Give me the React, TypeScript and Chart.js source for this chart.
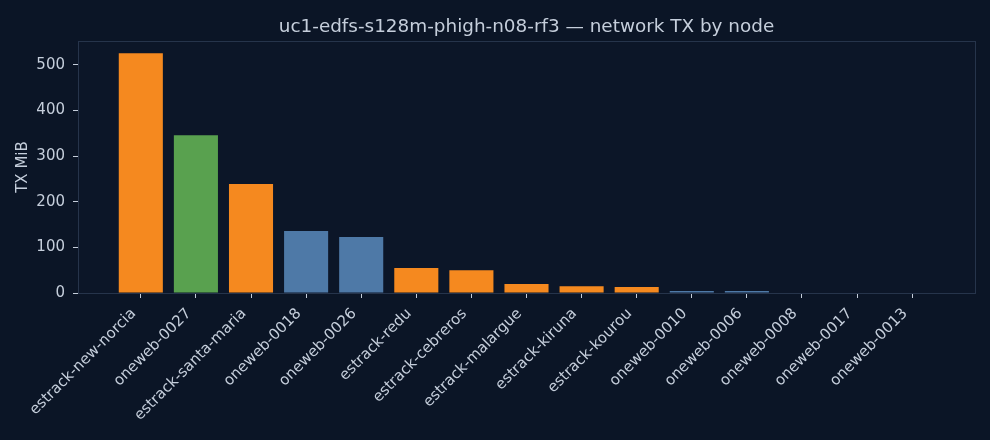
import { Chart, registerables } from "chart.js";
import { useEffect, useRef } from "react";

Chart.register(...registerables);

const nodes = [
  "estrack-new-norcia",
  "oneweb-0027",
  "estrack-santa-maria",
  "oneweb-0018",
  "oneweb-0026",
  "estrack-redu",
  "estrack-cebreros",
  "estrack-malargue",
  "estrack-kiruna",
  "estrack-kourou",
  "oneweb-0010",
  "oneweb-0006",
  "oneweb-0008",
  "oneweb-0017",
  "oneweb-0013",
];
const txMiB = [526, 346, 239, 136, 123, 55, 50, 19.5, 15, 13, 4.3, 4.3, 0, 0, 0];
const nodeKind = [
  "ground", "sat-hot", "ground", "sat", "sat", "ground", "ground", "ground",
  "ground", "ground", "sat", "sat", "sat", "sat", "sat",
];
const yTicks = [0, 100, 200, 300, 400, 500];

const kindColor: Record<string, string> = {
  ground: "#f5891f",
  "sat-hot": "#59a14f",
  sat: "#4e79a7",
};

const BG = "#0b1526";
const PLOT_BG = "#0c1628";
const TEXT = "#c5cedb";
const SPINE = "#26344b";
const FONT = "'DejaVu Sans', sans-serif";

const App = () => {
  const canvasRef = useRef<HTMLCanvasElement | null>(null);
  const chartRef = useRef<Chart | null>(null);

  useEffect(() => {
    if (!canvasRef.current) return;
    if (chartRef.current) chartRef.current.destroy();

    // background, axes box and title drawn by hand, matplotlib style
    const frame = {
      id: "frame",
      beforeDraw(chart: Chart) {
        const { ctx, chartArea: a } = chart;
        ctx.save();
        ctx.fillStyle = BG;
        ctx.fillRect(0, 0, chart.width, chart.height);
        ctx.fillStyle = PLOT_BG;
        ctx.fillRect(a.left, a.top, a.right - a.left, a.bottom - a.top);
        ctx.restore();
      },
      afterDraw(chart: Chart) {
        const { ctx, chartArea: a } = chart;
        ctx.save();
        ctx.strokeStyle = SPINE;
        ctx.lineWidth = 1;
        ctx.strokeRect(a.left + 0.5, a.top + 0.5, a.right - a.left, a.bottom - a.top);
        ctx.fillStyle = TEXT;
        ctx.font = `18.4px ${FONT}`;
        ctx.textAlign = "center";
        ctx.textBaseline = "middle";
        ctx.fillText(
          "uc1-edfs-s128m-phigh-n08-rf3 \u2014 network TX by node",
          (a.left + a.right) / 2,
          27
        );
        ctx.restore();
      },
    };

    chartRef.current = new Chart(canvasRef.current, {
      type: "bar",
      data: {
        datasets: [
          {
            data: txMiB.map((v, i) => ({ x: i, y: v })),
            backgroundColor: nodeKind.map((k) => kindColor[k]),
            borderWidth: 0,
            barPercentage: 0.8,
            categoryPercentage: 1,
          },
        ],
      },
      options: {
        animation: false,
        responsive: false,
        devicePixelRatio: 1,
        layout: { padding: { left: 0, right: 15, top: 41, bottom: 0 } },
        plugins: { legend: { display: false }, tooltip: { enabled: false } },
        scales: {
          x: {
            type: "linear",
            offset: false,
            min: -1.14,
            max: nodes.length - 1 + 1.14,
            afterBuildTicks: (s: any) => {
              s.ticks = nodes.map((_, i) => ({ value: i }));
            },
            afterFit: (s: any) => {
              s.height = 147;
            },
            border: { display: false },
            grid: {
              offset: false,
              drawOnChartArea: false,
              drawTicks: true,
              tickLength: 5,
              tickColor: TEXT,
            },
            ticks: {
              autoSkip: false,
              minRotation: 45,
              maxRotation: 45,
              padding: 7,
              labelOffset: -7,
              color: TEXT,
              font: { family: FONT, size: 15 },
              callback: (v: any) => nodes[v] ?? "",
            },
          },
          y: {
            min: 0,
            max: 552.6,
            afterBuildTicks: (s: any) => {
              s.ticks = yTicks.map((v) => ({ value: v }));
            },
            afterFit: (s: any) => {
              s.width = 78;
            },
            border: { display: false },
            grid: {
              drawOnChartArea: false,
              drawTicks: true,
              tickLength: 5,
              tickColor: TEXT,
            },
            ticks: {
              padding: 8,
              color: TEXT,
              font: { family: FONT, size: 15 },
            },
            title: {
              display: true,
              text: "TX MiB",
              color: TEXT,
              font: { family: FONT, size: 15 },
              padding: { top: 14, bottom: 0 },
            },
          },
        },
      },
      plugins: [frame],
    });

    return () => {
      if (chartRef.current) chartRef.current.destroy();
      chartRef.current = null;
    };
  }, []);

  return (
    <div style={{ position: "fixed", left: 0, top: 0, width: 990, height: 440, background: BG }}>
      <canvas ref={canvasRef} width={990} height={440} />
    </div>
  );
};

export default App;
